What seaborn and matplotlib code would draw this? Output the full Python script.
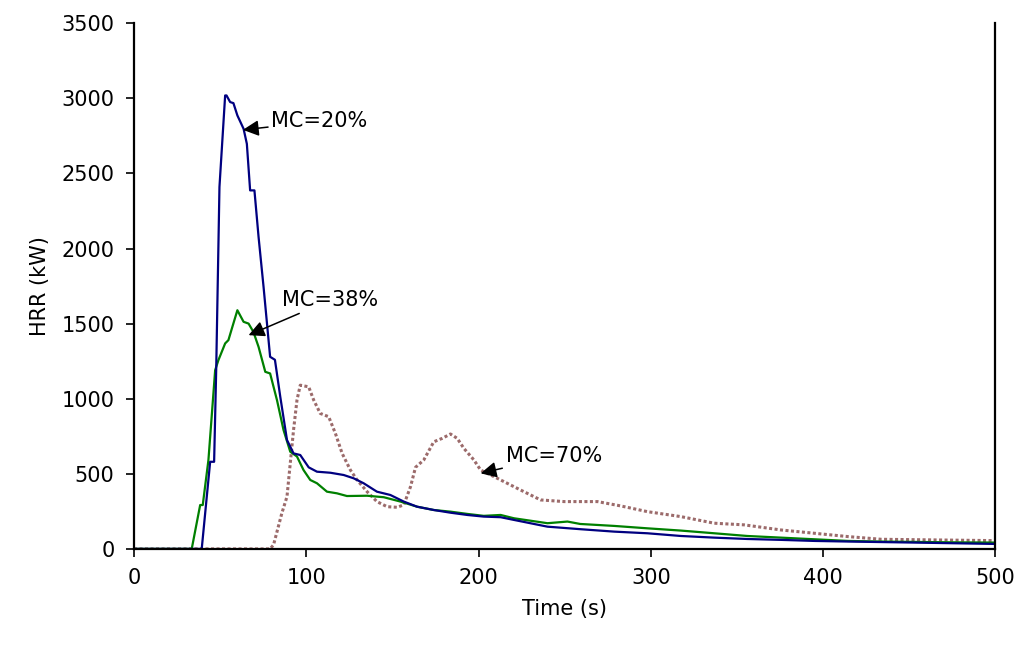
import numpy as np
import pandas as pd
import matplotlib
matplotlib.use("Agg")
import matplotlib.pyplot as plt
import seaborn as sns

# MC = 20 %
t20 = [0, 39.3, 44.2, 46.5, 47.7, 49.6, 52.9, 53.7, 55.8, 57.7, 60, 63.6, 65.5, 67.4, 69.9,
       72.3, 75.2, 79, 81.8, 84.9, 88.8, 92.6, 96.5, 101.4, 106.2, 114, 121.7, 127.5, 133.3,
       141, 148.8, 156.6, 164.3, 174, 183.7, 193.4, 203, 212.8, 220.5, 240, 259.3, 278.7,
       298, 317.4, 336.8, 356, 375.6, 395, 414.4, 453, 500]
hrr20 = [0, 0, 580, 580, 1190, 2410, 3019, 3019, 2975, 2968, 2886, 2797, 2697, 2387, 2387,
         2077, 1744, 1279, 1259, 1013, 725, 636, 625, 543, 514, 507, 492, 470, 437,
         381, 359, 315, 281, 259, 241, 226, 215, 211, 193, 148, 131, 115,
         104, 86, 75, 66, 60, 53, 49, 42, 33]

# MC = 38 %
t38 = [0, 33.5, 38.4, 39.9, 43.2, 47.1, 49, 52.9, 54.8, 56.8, 60, 63.6, 66.5, 69.3, 72.3,
       76.2, 79, 83, 86.8, 90.7, 94.6, 98.4, 102.3, 106.2, 112, 117.8, 123.6, 135.3, 145,
       154.7, 164.3, 174, 183.7, 193.4, 203, 212.8, 220.5, 240, 251.6, 259, 278.7, 298,
       317.4, 336.8, 356, 375.6, 395, 414.4, 433.7, 472.5, 500]
hrr38 = [0, 0, 292, 292, 592, 1190, 1257, 1368, 1390, 1467, 1589, 1512, 1500, 1445, 1345,
         1179, 1168, 990, 791, 647, 615, 525, 459, 437, 381, 370, 352, 354, 344,
         315, 281, 259, 248, 233, 220, 226, 204, 171, 182, 166, 153, 137,
         122, 104, 86, 75, 64, 53, 49, 44, 42]

# MC = 70 %
t70 = [0, 79, 81, 85.8, 88.8, 90.7, 92.6, 94.6, 96.5, 101.4, 104.3, 108.1, 113, 116.9,
       120.8, 125.6, 129.5, 135.3, 141, 146.9, 152.7, 156.6, 160.5, 163.4, 168.2, 174,
       178.9, 183.7, 187.6, 191.5, 197.3, 201.2, 207, 212.8, 224.4, 236, 249.6, 269,
       282.6, 298, 317.4, 336.8, 354.2, 375.6, 395, 414.4, 433.7, 462.8, 500]
hrr70 = [0, 0, 27, 237, 348, 570, 791, 991, 1090, 1079, 991, 902, 880, 769,
         636, 525, 459, 381, 315, 281, 277, 293, 414, 543, 592, 713,
         736, 765, 736, 669, 592, 525, 492, 459, 392, 326, 315, 315,
         286, 248, 215, 171, 160, 126, 104, 82, 64, 60, 55]

sns.set_style("white")
plt.rcParams['font.family'] = ['DejaVu Sans']
plt.rcParams['font.size'] = 15
plt.rcParams['text.color'] = 'black'
plt.rcParams['axes.labelcolor'] = 'black'
plt.rcParams['xtick.color'] = 'black'
plt.rcParams['ytick.color'] = 'black'

fig = plt.figure(figsize=(10.23, 6.45), dpi=100)
ax = fig.add_axes([0.131, 0.149, 0.842, 0.815])

df20 = pd.DataFrame({"t": t20, "hrr": hrr20})
df38 = pd.DataFrame({"t": t38, "hrr": hrr38})
df70 = pd.DataFrame({"t": t70, "hrr": hrr70})

sns.lineplot(data=df70, x="t", y="hrr", ax=ax, color="#9c6b6b", lw=2.2,
             linestyle=(0, (1.0, 0.8)), sort=False)
sns.lineplot(data=df38, x="t", y="hrr", ax=ax, color="#008000", lw=1.6, sort=False)
sns.lineplot(data=df20, x="t", y="hrr", ax=ax, color="#000080", lw=1.6, sort=False)

ax.set_xlim(0, 500)
ax.set_ylim(0, 3500)
ax.set_xticks(np.arange(0, 501, 100))
ax.set_yticks(np.arange(0, 3501, 500))
ax.set_xlabel("Time (s)", fontsize=15, labelpad=8)
ax.set_ylabel("HRR (kW)", fontsize=15, labelpad=8)

ax.spines['top'].set_visible(False)
for s in ['left', 'bottom', 'right']:
    ax.spines[s].set_color('black')
    ax.spines[s].set_linewidth(1.6)
ax.tick_params(axis='both', direction='out', length=6, width=1.2, color='black',
               labelcolor='black', labelsize=15, pad=8)
ax.tick_params(axis='y', right=False, left=True)
ax.tick_params(axis='x', bottom=True)

arrow = dict(arrowstyle='-|>', color='black', lw=1.1, mutation_scale=24,
             shrinkA=0, shrinkB=0)
ax.annotate("MC=20%", xy=(63.2, 2790), xytext=(79.7, 2846), fontsize=15,
            va='center', ha='left', color='black', arrowprops=arrow)
ax.annotate("MC=38%", xy=(66.5, 1423), xytext=(86, 1656), fontsize=15,
            va='center', ha='left', color='black', arrowprops=arrow)
ax.annotate("MC=70%", xy=(201.2, 503), xytext=(215.7, 618), fontsize=15,
            va='center', ha='left', color='black', arrowprops=arrow)

fig.savefig("out.png", dpi=100)
